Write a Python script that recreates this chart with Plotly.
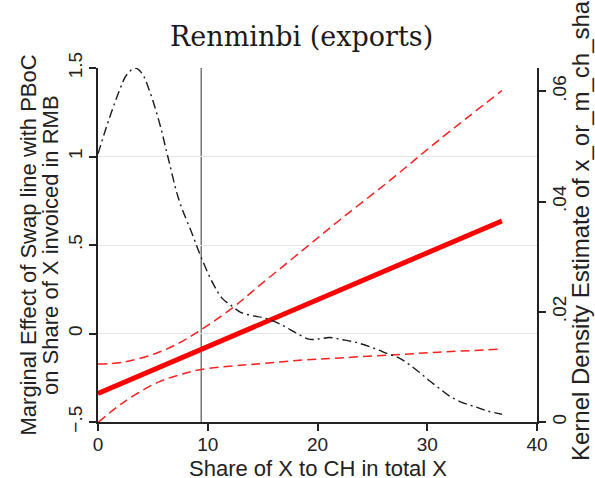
import plotly.graph_objects as go

# ---- data ----
me_x = [0, 5, 10, 15, 20, 25, 30, 36.8]
me_y = [-0.339, -0.207, -0.074, 0.058, 0.191, 0.324, 0.456, 0.636]

ci_x = [0, 2.3, 5.3, 7.5, 9.25, 12.3, 14.4, 18.6, 22, 26.5, 31, 36.8]
ci_upper = [-0.173, -0.162, -0.112, -0.05, 0.015, 0.147, 0.255, 0.468, 0.64, 0.86, 1.09, 1.372]
ci_lower = [-0.503, -0.39, -0.28, -0.232, -0.205, -0.183, -0.173, -0.15, -0.138, -0.122, -0.106, -0.088]

kd_x = [0, 1.0, 2.0, 2.6, 3.4, 4.0, 4.7, 5.6, 6.4, 7.4, 8.6, 9.4, 10.5, 11.3, 12.2, 13.0,
        14.1, 15.0, 16.0, 17.0, 18.0, 19.2, 20.2, 21.1, 22.3, 23.5, 25.0, 26.5, 27.5, 28.3,
        29.3, 30.2, 31.1, 32.0, 33.2, 34.4, 35.5, 36.8]
kd_y = [0.04865, 0.05492, 0.06038, 0.06295, 0.06423, 0.06327, 0.06006, 0.05427, 0.04785,
        0.04014, 0.03404, 0.02987, 0.02505, 0.02248, 0.02104, 0.01991, 0.01927, 0.01895,
        0.01831, 0.01734, 0.01622, 0.01503, 0.01509, 0.01532, 0.01493, 0.01445, 0.01349,
        0.01230, 0.01156, 0.01050, 0.00899, 0.00748, 0.00610, 0.00475, 0.00353, 0.00273,
        0.00199, 0.00141]

x_ticks = [0, 10, 20, 30, 40]
y_ticks = [-0.5, 0, 0.5, 1, 1.5]
y_ticktext = ["\u2212.5", "0", ".5", "1", "1.5"]
y2_ticks = [0, 0.02, 0.04, 0.06]
y2_ticktext = ["0", ".02", ".04", ".06"]
x_ref = 9.4

title_text = "Renminbi (exports)"
xtitle = "Share of X to CH in total X"
ytitle1 = "Marginal Effect of Swap line with PBoC"
ytitle2 = "on Share of X invoiced in RMB"
y2title = "Kernel Density Estimate of x_or_m_ch_share"

SANS = "Liberation Sans, Arial, sans-serif"
AX = "#222222"

fig = go.Figure()
fig.add_trace(go.Scatter(x=ci_x, y=ci_upper, mode="lines", line=dict(color="#ff2020", width=1.5, dash="9px,5px", shape="spline"), showlegend=False))
fig.add_trace(go.Scatter(x=ci_x, y=ci_lower, mode="lines", line=dict(color="#ff2020", width=1.5, dash="9px,5px", shape="spline"), showlegend=False))
fig.add_trace(go.Scatter(x=me_x, y=me_y, mode="lines", line=dict(color="#ff0000", width=5), showlegend=False))
fig.add_trace(go.Scatter(x=kd_x, y=kd_y, mode="lines", yaxis="y2",
                         line=dict(color="#1a1a1a", width=1.4, dash="9px,4px,2px,4px", shape="spline"), showlegend=False))

fig.add_shape(type="line", x0=x_ref, x1=x_ref, y0=-0.5, y1=1.5, xref="x", yref="y",
              line=dict(color="#333333", width=1), layer="below")
fig.add_shape(type="line", x0=0, x1=40, y0=0, y1=0, xref="x", yref="y",
              line=dict(color="#333333", width=1), layer="below")

fig.update_layout(
    width=595, height=478,
    margin=dict(l=98, r=58, t=68, b=56),
    paper_bgcolor="white", plot_bgcolor="white",
    font=dict(family=SANS, size=19, color=AX),
    xaxis=dict(range=[0, 40], tickvals=x_ticks, showgrid=False, zeroline=False,
               showline=True, linecolor=AX, linewidth=1.5, ticks="outside", ticklen=7,
               tickcolor=AX, tickwidth=1.5, tickfont=dict(size=19), ticklabelstandoff=-3),
    yaxis=dict(range=[-0.5, 1.5], tickvals=y_ticks, ticktext=y_ticktext, tickangle=-90,
               showgrid=True, gridcolor="#e6e6e6", gridwidth=1, zeroline=False,
               showline=True, linecolor=AX, linewidth=1.5, ticks="outside", ticklen=7,
               tickcolor=AX, tickwidth=1.5, tickfont=dict(size=19)),
    yaxis2=dict(range=[0, 0.06423], overlaying="y", side="right", tickvals=y2_ticks,
                ticktext=y2_ticktext, tickangle=-90, showgrid=False, zeroline=False,
                showline=True, linecolor=AX, linewidth=1.5, ticks="outside", ticklen=7,
                tickcolor=AX, tickwidth=1.5, tickfont=dict(size=19), ticklabelstandoff=-3),
)

fig.add_annotation(text=title_text, x=0.4636, y=1.089, xref="paper", yref="paper",
                   xanchor="center", yanchor="middle", showarrow=False,
                   font=dict(family="DejaVu Serif, serif", size=27, color="#1a1a1a"))
fig.add_annotation(text=xtitle, x=0.5, y=(422 - 468) / 354, xref="paper", yref="paper",
                   xanchor="center", yanchor="middle", showarrow=False,
                   font=dict(family=SANS, size=22, color=AX))
fig.add_annotation(text=ytitle1, x=(27.5 - 98) / 439, y=0.5, xref="paper", yref="paper",
                   xanchor="center", yanchor="middle", textangle=-90, showarrow=False,
                   font=dict(family=SANS, size=22, color=AX))
fig.add_annotation(text=ytitle2, x=(50 - 98) / 439, y=0.5, xref="paper", yref="paper",
                   xanchor="center", yanchor="middle", textangle=-90, showarrow=False,
                   font=dict(family=SANS, size=22, color=AX))
fig.add_annotation(text=y2title, x=(580 - 98) / 439, y=(422 - 463) / 354, xref="paper", yref="paper",
                   xanchor="center", yanchor="bottom", textangle=-90, showarrow=False,
                   font=dict(family=SANS, size=24, color=AX))

fig.write_html("out.html", config={"displayModeBar": False},
               post_script="document.body.style.margin='0';")
